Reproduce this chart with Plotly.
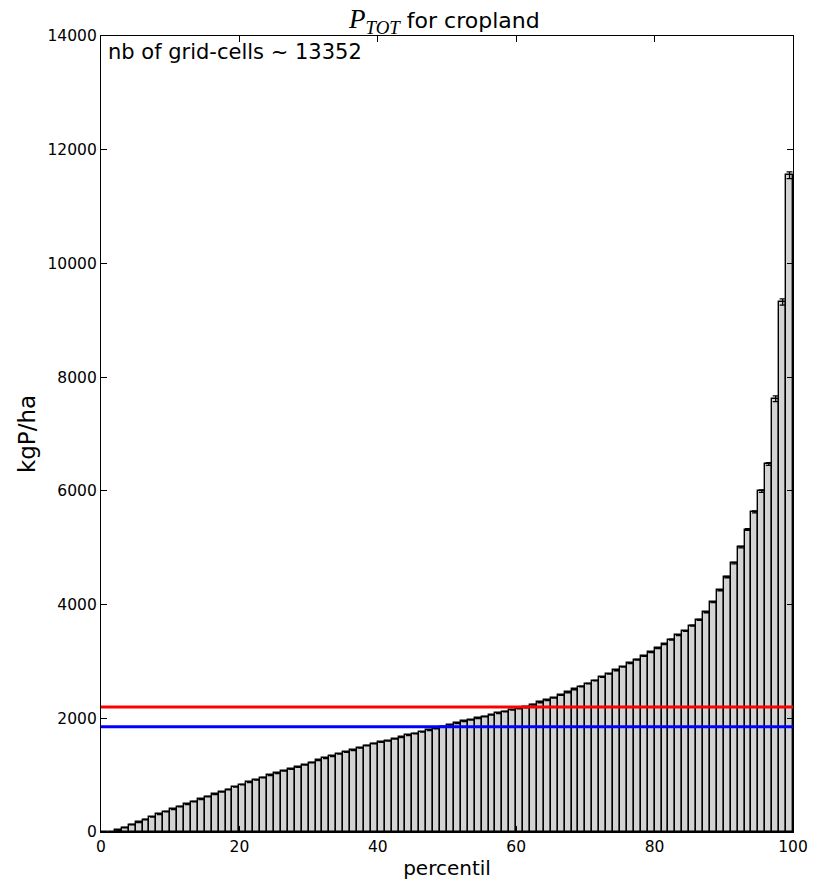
import plotly.graph_objects as go

# Percentile bins (bar k spans [k, k+1])
percentile = list(range(100))

# Total P per hectare for each percentile bin (kgP/ha)
p_tot = [
    0, 0, 29, 76, 129, 170, 217, 264, 311, 358,
    399, 446, 487, 534, 575, 622, 663, 704, 745, 795,
    832, 874, 915, 956, 997, 1032, 1073, 1108, 1143, 1179,
    1220, 1261, 1296, 1331, 1372, 1407, 1437, 1478, 1518, 1554,
    1580, 1601, 1636, 1665, 1700, 1730, 1759, 1789, 1818, 1853,
    1882, 1911, 1947, 1970, 2000, 2029, 2058, 2087, 2117, 2146,
    2170, 2190, 2238, 2278, 2318, 2360, 2407, 2454, 2507, 2559,
    2609, 2662, 2724, 2782, 2841, 2905, 2967, 3028, 3096, 3160,
    3231, 3304, 3383, 3460, 3535, 3630, 3729, 3864, 4043, 4251,
    4482, 4729, 5010, 5320, 5629, 5995, 6473, 7620, 9320, 11550,
]

# Standard error of each bin
p_err = [
    0, 0, 4, 4, 4, 4, 4, 4, 4, 4,
    4, 4, 4, 4, 4, 4, 4, 4, 4, 4,
    4, 4, 4, 4, 4, 4, 4, 4, 4, 4,
    4, 4, 4, 4, 4, 4, 4, 4, 4, 4,
    4, 4, 4, 4, 4, 4, 4, 4, 4, 4,
    4, 4, 4, 4, 4, 4, 4, 4, 4, 4,
    5, 5, 5, 5, 5, 5, 5, 5, 5, 5,
    5, 5, 5, 5, 5, 5, 6, 6, 6, 6,
    6, 6, 7, 7, 7, 8, 8, 9, 10, 11,
    12, 13, 14, 16, 18, 20, 25, 50, 55, 60,
]

mean_value = 2200     # red reference line
median_value = 1850   # blue reference line
n_cells = 13352

FONT = "DejaVu Sans"

fig = go.Figure()

fig.add_trace(go.Bar(
    x=[p + 0.5 for p in percentile],
    y=p_tot,
    width=1,
    marker=dict(color="#d3d3d3", line=dict(color="black", width=1.4)),
    error_y=dict(type="data", array=p_err, color="black", thickness=1.3, width=3),
    showlegend=False,
))

fig.add_trace(go.Scatter(
    x=[0, 100], y=[mean_value, mean_value], mode="lines",
    line=dict(color="#ff0000", width=3), showlegend=False,
))
fig.add_trace(go.Scatter(
    x=[0, 100], y=[median_value, median_value], mode="lines",
    line=dict(color="#0000ff", width=3), showlegend=False,
))

axis_common = dict(
    showline=True, linecolor="black", linewidth=1.3, mirror="allticks",
    ticks="inside", ticklen=6, tickwidth=1, tickcolor="black",
    showgrid=False, zeroline=False, automargin=False,
    tickfont=dict(family=FONT, size=15.5, color="black"),
)

fig.update_layout(
    width=814, height=888,
    margin=dict(l=101, r=21, t=36, b=56),
    paper_bgcolor="white", plot_bgcolor="white",
    bargap=0,
    xaxis=dict(range=[0, 100], tickvals=[0, 20, 40, 60, 80, 100],
               title=dict(text="percentil", font=dict(family=FONT, size=20, color="black"),
                          standoff=6),
               **axis_common),
    yaxis=dict(range=[0, 14000], tickvals=list(range(0, 14001, 2000)), tickformat="d",
               title=dict(text="kgP/ha", font=dict(family=FONT, size=23, color="black"),
                          standoff=5),
               **axis_common),
    annotations=[
        dict(
            text="<span style=\"font-family:'Liberation Serif'; font-size:27px\"><i>P</i><sub><i>TOT</i></sub></span> for cropland",
            x=0.5, y=1, xref="paper", yref="paper", xanchor="center", yanchor="bottom",
            xshift=-3, yshift=-4, showarrow=False,
            font=dict(family=FONT, size=22, color="black"),
        ),
        dict(
            text=f"nb of grid-cells ~ {n_cells}",
            x=0, y=1, xref="paper", yref="paper", xanchor="left", yanchor="top",
            xshift=5, yshift=-2, showarrow=False,
            font=dict(family=FONT, size=21, color="black"),
        ),
    ],
)

fig.write_html("out.html")
